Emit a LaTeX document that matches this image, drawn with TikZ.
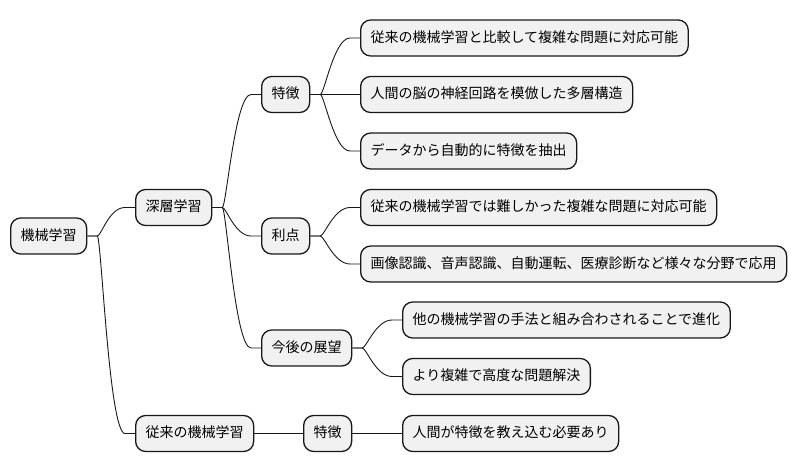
\documentclass[tikz,border=0pt]{standalone}
\usepackage{fontspec}
\setmainfont{Noto Sans CJK JP}
\usetikzlibrary{calc}
\definecolor{boxfill}{HTML}{F1F1F1}
\definecolor{boxline}{HTML}{181818}
\tikzset{
  mmnode/.style={draw=boxline, fill=boxfill, line width=1.3pt, rounded corners=10pt,
    anchor=west, inner xsep=10pt, inner ysep=0pt, minimum height=36pt,
    text height=11pt, text depth=3pt, font=\fontsize{14}{16}\selectfont},
  link/.style={draw=boxline, line width=0.9pt},
  mm/.style={to path={-- ++(10,0) .. controls +(4,0) and +(-16,0) .. ($(\tikztotarget)+(-10,0)$) -- (\tikztotarget)}}
}
\begin{document}
\begin{tikzpicture}[x=1pt, y=-1pt]
\useasboundingbox (0,0) rectangle (796,471);
\node[mmnode] (root) at (10,236) {機械学習};
\node[mmnode] (dl) at (135,207.5) {深層学習};
\node[mmnode] (trad) at (135,433.5) {従来の機械学習};
\node[mmnode] (f1) at (261,94.5) {特徴};
\node[mmnode] (adv) at (261,236) {利点};
\node[mmnode] (fut) at (261,348) {今後の展望};
\node[mmnode] (f2) at (303,433.5) {特徴};
\node[mmnode] (l1) at (360,38) {従来の機械学習と比較して複雑な問題に対応可能};
\node[mmnode] (l2) at (360,94.5) {人間の脳の神経回路を模倣した多層構造};
\node[mmnode] (l3) at (360,151) {データから自動的に特徴を抽出};
\node[mmnode] (l4) at (360,207.5) {従来の機械学習では難しかった複雑な問題に対応可能};
\node[mmnode] (l5) at (360,264) {画像認識、音声認識、自動運転、医療診断など様々な分野で応用};
\node[mmnode] (l6) at (402,320) {他の機械学習の手法と組み合わされることで進化};
\node[mmnode] (l7) at (402,376.5) {より複雑で高度な問題解決};
\node[mmnode] (l8) at (402,433.5) {人間が特徴を教え込む必要あり};
\draw[link] (root.east) to[mm] (dl.west);
\draw[link] (root.east) to[mm] (trad.west);
\draw[link] (dl.east) to[mm] (f1.west);
\draw[link] (dl.east) to[mm] (adv.west);
\draw[link] (dl.east) to[mm] (fut.west);
\draw[link] (f1.east) to[mm] (l1.west);
\draw[link] (f1.east) to[mm] (l2.west);
\draw[link] (f1.east) to[mm] (l3.west);
\draw[link] (adv.east) to[mm] (l4.west);
\draw[link] (adv.east) to[mm] (l5.west);
\draw[link] (fut.east) to[mm] (l6.west);
\draw[link] (fut.east) to[mm] (l7.west);
\draw[link] (trad.east) -- (f2.west);
\draw[link] (f2.east) -- (l8.west);
\end{tikzpicture}
\end{document}
